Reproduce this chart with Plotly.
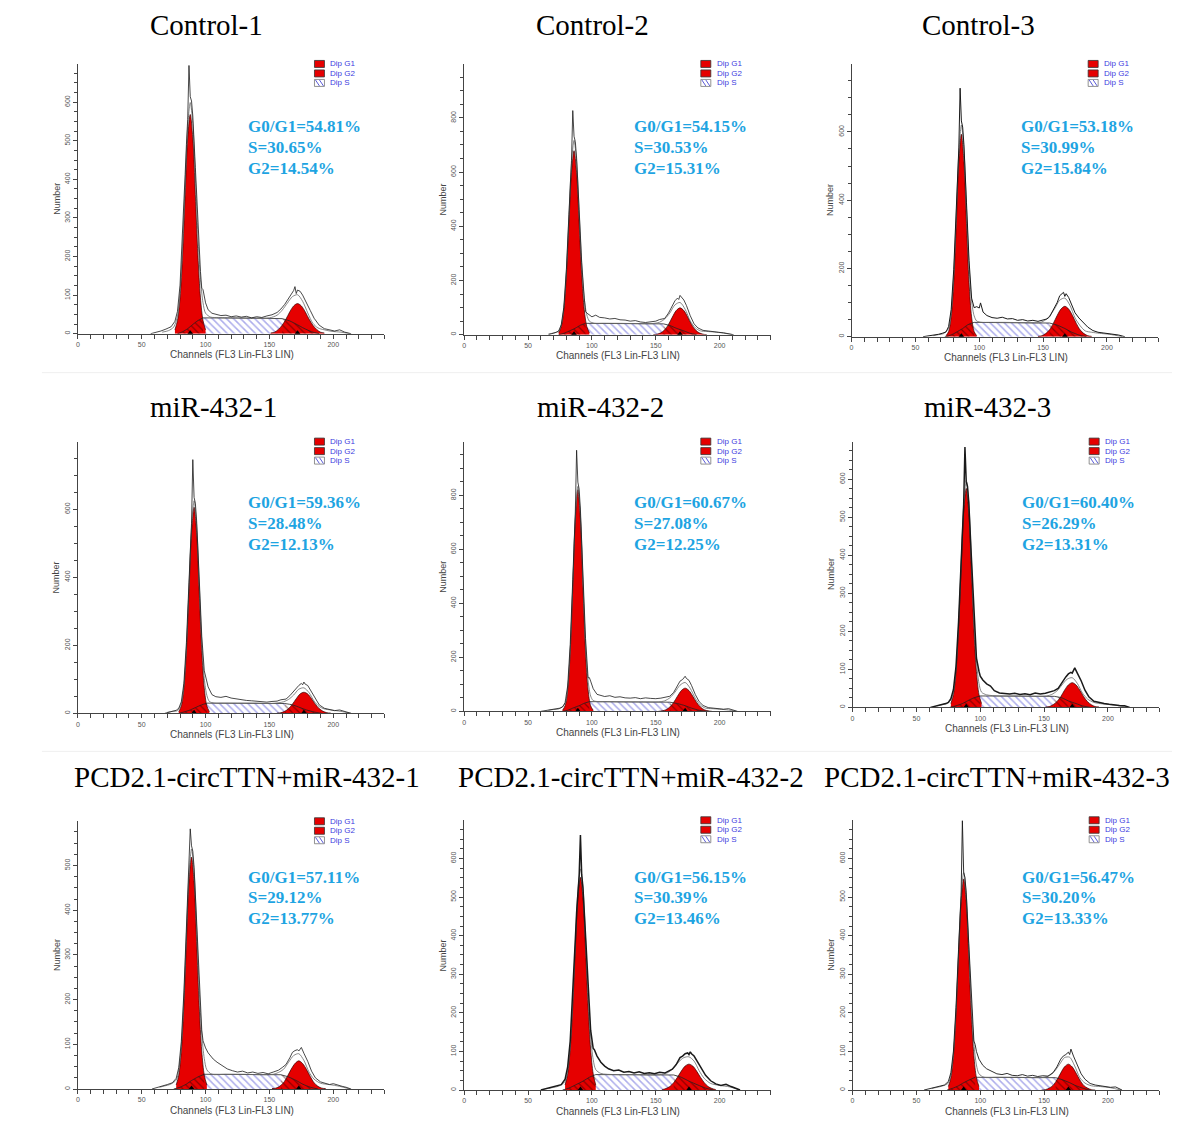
import plotly.graph_objects as go

W, H = 1182, 1122

# ---------------- data ----------------
TITLES = ["Control-1", "Control-2", "Control-3",
          "miR-432-1", "miR-432-2", "miR-432-3",
          "PCD2.1-circTTN+miR-432-1", "PCD2.1-circTTN+miR-432-2", "PCD2.1-circTTN+miR-432-3"]
G01_PCT = [54.81, 54.15, 53.18, 59.36, 60.67, 60.40, 57.11, 56.15, 56.47]
S_PCT = [30.65, 30.53, 30.99, 28.48, 27.08, 26.29, 29.12, 30.39, 30.20]
G2_PCT = [14.54, 15.31, 15.84, 12.13, 12.25, 13.31, 13.77, 13.46, 13.33]

Y_MAX = [700, 1000, 800, 800, 1000, 700, 600, 700, 700]
Y_DTICK = [100, 200, 200, 200, 200, 100, 100, 100, 100]
X_MAX = 240
X_DTICK = 50

G1_MEAN = [88, 86, 86, 91, 89, 89, 89, 91, 87]
G2_MEAN = [172, 169, 167, 177, 173, 172, 173, 176, 169]

G1_X = [
    [76, 78, 80, 82, 84, 86, 88, 90, 92, 94, 96, 98, 100],
    [74, 76, 78, 80, 82, 84, 86, 88, 90, 92, 94, 96, 98],
    [74, 76, 78, 80, 82, 84, 86, 88, 90, 92, 94, 96, 98],
    [79, 81, 83, 85, 87, 89, 91, 93, 95, 97, 99, 101, 103],
    [77, 79, 81, 83, 85, 87, 89, 91, 93, 95, 97, 99, 101],
    [77, 79, 81, 83, 85, 87, 89, 91, 93, 95, 97, 99, 101],
    [77, 79, 81, 83, 85, 87, 89, 91, 93, 95, 97, 99, 101],
    [79, 81, 83, 85, 87, 89, 91, 93, 95, 97, 99, 101, 103],
    [75, 77, 79, 81, 83, 85, 87, 89, 91, 93, 95, 97, 99],
]
G1_Y = [
    [10, 34, 93, 204, 361, 507, 568, 507, 361, 204, 93, 34, 10],
    [7, 30, 92, 221, 412, 599, 679, 599, 412, 221, 92, 30, 7],
    [3, 15, 58, 159, 331, 512, 593, 512, 331, 159, 58, 15, 3],
    [5, 22, 74, 185, 358, 531, 606, 531, 358, 185, 74, 22, 5],
    [4, 21, 80, 220, 458, 709, 821, 709, 458, 220, 80, 21, 4],
    [10, 34, 94, 207, 366, 514, 576, 514, 366, 207, 94, 34, 10],
    [9, 31, 85, 187, 330, 463, 519, 463, 330, 187, 85, 31, 9],
    [13, 42, 106, 218, 365, 497, 551, 497, 365, 218, 106, 42, 13],
    [9, 32, 89, 197, 347, 488, 547, 488, 347, 197, 89, 32, 9],
]
G2_X = [
    [151, 154, 157, 160, 163, 166, 169, 172, 175, 178, 181, 184, 187, 190, 193],
    [148, 151, 154, 157, 160, 163, 166, 169, 172, 175, 178, 181, 184, 187, 190],
    [146, 149, 152, 155, 158, 161, 164, 167, 170, 173, 176, 179, 182, 185, 188],
    [156, 159, 162, 165, 168, 171, 174, 177, 180, 183, 186, 189, 192, 195, 198],
    [152, 155, 158, 161, 164, 167, 170, 173, 176, 179, 182, 185, 188, 191, 194],
    [151, 154, 157, 160, 163, 166, 169, 172, 175, 178, 181, 184, 187, 190, 193],
    [152, 155, 158, 161, 164, 167, 170, 173, 176, 179, 182, 185, 188, 191, 194],
    [155, 158, 161, 164, 167, 170, 173, 176, 179, 182, 185, 188, 191, 194, 197],
    [148, 151, 154, 157, 160, 163, 166, 169, 172, 175, 178, 181, 184, 187, 190],
]
G2_Y = [
    [2, 4, 11, 22, 38, 57, 72, 78, 72, 57, 38, 22, 11, 4, 2],
    [0, 2, 7, 18, 38, 65, 89, 99, 89, 65, 38, 18, 7, 2, 0],
    [1, 3, 9, 20, 39, 62, 81, 89, 81, 62, 39, 20, 9, 3, 1],
    [1, 2, 6, 14, 27, 43, 57, 62, 57, 43, 27, 14, 6, 2, 1],
    [0, 2, 6, 16, 33, 56, 77, 86, 77, 56, 33, 16, 6, 2, 0],
    [1, 2, 7, 15, 28, 45, 59, 65, 59, 45, 28, 15, 7, 2, 1],
    [1, 2, 6, 14, 28, 44, 57, 63, 57, 44, 28, 14, 6, 2, 1],
    [1, 4, 9, 19, 33, 49, 62, 67, 62, 49, 33, 19, 9, 4, 1],
    [0, 1, 5, 12, 26, 44, 60, 67, 60, 44, 26, 12, 5, 1, 0],
]
# S phase: points 0-5 rise under G1, 5-9 plateau, 9-14 fall under G2
S_X = [
    [78, 82, 86, 90, 94, 98, 113, 129, 145, 160, 166, 172, 177, 183, 189],
    [74, 78, 82, 87, 91, 95, 110, 125, 140, 156, 161, 166, 172, 177, 182],
    [73, 78, 82, 87, 91, 96, 110, 125, 140, 155, 161, 167, 172, 178, 184],
    [79, 83, 88, 92, 97, 101, 116, 131, 146, 162, 168, 174, 179, 185, 191],
    [77, 81, 85, 90, 94, 98, 114, 129, 145, 161, 167, 173, 178, 184, 190],
    [76, 81, 86, 90, 95, 100, 114, 129, 143, 158, 164, 169, 175, 180, 186],
    [75, 80, 85, 89, 94, 99, 114, 129, 144, 159, 165, 171, 176, 182, 188],
    [77, 82, 87, 93, 98, 103, 118, 133, 149, 164, 170, 176, 183, 189, 195],
    [74, 78, 83, 87, 92, 96, 112, 128, 143, 159, 164, 170, 175, 181, 186],
]
S_Y = [
    [0, 5, 13, 24, 34, 41, 41, 40, 40, 39, 33, 23, 14, 5, 0],
    [0, 5, 13, 24, 35, 42, 42, 41, 41, 40, 34, 24, 14, 5, 0],
    [0, 5, 13, 24, 35, 42, 42, 41, 41, 40, 34, 24, 14, 5, 0],
    [0, 4, 10, 17, 25, 30, 30, 30, 29, 29, 25, 17, 10, 4, 0],
    [0, 4, 12, 21, 30, 36, 36, 35, 35, 34, 29, 21, 12, 4, 0],
    [0, 4, 10, 17, 25, 30, 30, 30, 29, 29, 25, 17, 10, 4, 0],
    [0, 4, 11, 19, 27, 33, 33, 33, 32, 32, 27, 19, 11, 4, 0],
    [0, 5, 13, 23, 33, 40, 40, 40, 39, 39, 33, 23, 13, 5, 0],
    [0, 4, 11, 19, 27, 33, 33, 33, 32, 32, 27, 19, 11, 4, 0],
]
RAW_X = [
    [57, 61, 65, 69, 73, 76, 78, 80, 82, 84, 85, 86, 87, 88, 89, 90, 92, 94, 96, 97, 98, 100, 102, 105, 108, 112, 116, 120, 124, 128, 132, 136, 140, 144, 148, 152, 156, 159, 162, 165, 167, 169, 170, 171, 172, 174, 176, 179, 182, 185, 189, 193, 197, 201, 205, 209, 214],
    [66, 69, 72, 74, 76, 78, 80, 82, 83, 84, 85, 86, 87, 88, 90, 92, 94, 95, 96, 98, 100, 103, 106, 110, 114, 118, 122, 126, 130, 134, 138, 142, 146, 150, 153, 157, 160, 163, 165, 167, 168, 169, 170, 172, 174, 177, 180, 183, 187, 191, 195, 199, 203, 207, 211],
    [56, 60, 64, 68, 71, 74, 76, 78, 80, 82, 83, 84, 85, 86, 87, 88, 90, 92, 94, 96, 98, 100, 101, 103, 106, 110, 114, 118, 122, 126, 130, 134, 138, 142, 146, 150, 153, 155, 158, 161, 163, 165, 166, 167, 168, 170, 172, 175, 178, 181, 185, 189, 193, 197, 201, 205, 209, 214],
    [68, 71, 74, 77, 79, 81, 83, 85, 87, 88, 89, 90, 91, 92, 93, 95, 97, 99, 100, 102, 105, 108, 112, 116, 120, 124, 128, 132, 136, 140, 144, 148, 152, 156, 159, 163, 166, 169, 171, 173, 175, 176, 177, 178, 180, 183, 186, 189, 193, 197, 201, 205, 209, 214],
    [60, 64, 68, 72, 75, 77, 79, 81, 83, 85, 86, 87, 88, 89, 90, 91, 93, 95, 97, 98, 99, 101, 104, 107, 110, 114, 118, 122, 126, 130, 134, 138, 142, 146, 150, 154, 158, 161, 164, 167, 169, 171, 172, 173, 174, 176, 178, 181, 184, 187, 191, 195, 199, 203, 207, 211, 214],
    [61, 65, 69, 73, 75, 77, 79, 81, 83, 85, 86, 87, 88, 89, 90, 91, 93, 95, 97, 99, 100, 102, 105, 108, 111, 115, 119, 123, 127, 131, 135, 139, 143, 147, 151, 155, 158, 161, 164, 167, 169, 171, 172, 173, 174, 176, 179, 182, 185, 189, 193, 197, 201, 205, 209, 213, 217],
    [58, 62, 66, 70, 74, 77, 79, 81, 83, 85, 86, 87, 88, 89, 90, 91, 93, 95, 97, 98, 100, 102, 106, 109, 113, 117, 121, 125, 129, 133, 137, 141, 145, 149, 153, 157, 160, 163, 166, 168, 170, 172, 173, 174, 175, 177, 180, 183, 186, 190, 194, 197, 200, 203, 207, 210, 214],
    [60, 64, 68, 72, 76, 79, 81, 83, 85, 87, 88, 89, 90, 91, 92, 93, 95, 97, 99, 101, 102, 104, 107, 110, 113, 117, 121, 125, 129, 133, 137, 141, 145, 149, 153, 157, 160, 163, 166, 169, 171, 173, 175, 176, 177, 178, 180, 183, 186, 189, 193, 197, 201, 205, 209, 213, 216],
    [56, 60, 64, 68, 72, 75, 77, 79, 81, 83, 84, 85, 86, 87, 88, 89, 91, 93, 95, 96, 97, 99, 102, 105, 109, 113, 117, 121, 125, 129, 133, 137, 141, 145, 149, 153, 157, 160, 163, 165, 167, 168, 169, 170, 171, 173, 176, 179, 182, 186, 190, 194, 198, 202, 206, 211],
]
RAW_Y = [
    [0, 3, 7, 12, 18, 32, 58, 126, 252, 413, 490, 555, 695, 614, 603, 564, 431, 280, 161, 118, 114, 80, 62, 53, 50, 47, 48, 44, 46, 43, 45, 41, 44, 42, 46, 49, 55, 64, 76, 92, 100, 112, 122, 104, 113, 110, 100, 82, 60, 40, 22, 13, 9, 7, 10, 4, 0],
    [0, 4, 9, 14, 37, 101, 240, 444, 551, 644, 827, 732, 712, 652, 461, 266, 136, 85, 80, 72, 66, 72, 64, 62, 58, 60, 55, 54, 50, 52, 47, 45, 47, 50, 56, 60, 80, 108, 125, 135, 130, 145, 140, 128, 108, 70, 40, 25, 16, 13, 12, 9, 7, 4, 0],
    [0, 2, 4, 7, 10, 14, 30, 79, 196, 373, 469, 553, 728, 632, 614, 562, 392, 223, 113, 85, 88, 84, 99, 72, 62, 56, 54, 57, 52, 53, 48, 50, 46, 48, 45, 48, 52, 58, 78, 100, 120, 128, 130, 118, 126, 115, 98, 70, 55, 42, 28, 18, 13, 11, 9, 8, 5, 0],
    [0, 3, 6, 9, 15, 34, 88, 208, 385, 478, 559, 746, 635, 618, 566, 398, 227, 125, 110, 78, 55, 49, 47, 50, 45, 42, 40, 38, 37, 35, 34, 33, 35, 36, 40, 42, 52, 66, 72, 82, 88, 84, 92, 86, 82, 64, 42, 25, 15, 11, 8, 10, 5, 0],
    [0, 3, 6, 9, 12, 16, 33, 94, 247, 489, 622, 739, 967, 849, 823, 746, 505, 270, 124, 125, 112, 84, 63, 58, 55, 58, 52, 54, 50, 49, 51, 47, 50, 48, 47, 49, 54, 56, 70, 95, 112, 118, 125, 130, 122, 115, 96, 62, 36, 22, 14, 12, 10, 8, 10, 5, 0],
    [0, 3, 6, 10, 13, 23, 47, 107, 225, 385, 465, 533, 685, 595, 581, 540, 398, 244, 130, 95, 82, 72, 62, 56, 44, 38, 36, 35, 37, 34, 36, 33, 38, 35, 37, 42, 44, 50, 66, 80, 88, 92, 90, 98, 104, 90, 70, 45, 28, 16, 12, 10, 8, 6, 5, 4, 0],
    [0, 3, 6, 10, 14, 24, 48, 106, 215, 359, 429, 489, 582, 544, 532, 496, 373, 235, 132, 108, 92, 81, 67, 60, 52, 45, 41, 38, 40, 36, 38, 35, 37, 34, 38, 42, 48, 55, 70, 82, 86, 88, 85, 90, 93, 80, 62, 40, 25, 16, 12, 10, 12, 9, 6, 4, 0],
    [0, 3, 6, 10, 14, 28, 60, 127, 245, 390, 459, 517, 555, 661, 558, 524, 404, 266, 155, 108, 104, 88, 72, 62, 55, 50, 52, 46, 48, 44, 47, 43, 45, 42, 46, 44, 48, 54, 66, 84, 88, 94, 96, 92, 99, 94, 88, 70, 55, 38, 24, 16, 12, 15, 9, 5, 0],
    [0, 3, 6, 9, 13, 22, 45, 101, 214, 365, 440, 504, 698, 564, 551, 511, 379, 234, 127, 118, 100, 80, 64, 55, 48, 42, 40, 43, 38, 37, 40, 36, 38, 35, 37, 36, 45, 60, 80, 88, 92, 96, 98, 92, 106, 88, 65, 42, 28, 17, 13, 11, 9, 7, 8, 0],
]
FIT_X = [
    [66, 71, 75, 78, 80, 82, 84, 86, 88, 90, 92, 94, 96, 98, 100, 104, 110, 125, 140, 150, 156, 160, 164, 168, 172, 176, 180, 184, 188, 193, 199, 206, 213],
    [66, 70, 74, 76, 78, 80, 82, 84, 86, 88, 90, 92, 94, 96, 98, 102, 108, 120, 135, 147, 153, 157, 161, 165, 169, 173, 177, 181, 185, 190, 196, 203, 210],
    [64, 68, 72, 76, 78, 80, 82, 84, 86, 88, 90, 92, 94, 96, 98, 102, 108, 120, 135, 147, 151, 155, 159, 163, 167, 171, 175, 179, 183, 188, 194, 202, 212],
    [70, 74, 78, 81, 83, 85, 87, 89, 91, 93, 95, 97, 99, 101, 103, 107, 113, 125, 140, 152, 161, 165, 169, 173, 177, 181, 185, 189, 193, 198, 204, 210, 214],
    [66, 70, 74, 79, 81, 83, 85, 87, 89, 91, 93, 95, 97, 99, 101, 105, 111, 125, 140, 152, 157, 161, 165, 169, 173, 177, 181, 185, 189, 194, 200, 207, 213],
    [66, 70, 74, 77, 79, 81, 83, 85, 87, 89, 91, 93, 95, 97, 99, 101, 105, 115, 130, 145, 152, 156, 160, 164, 168, 172, 176, 180, 184, 189, 196, 205, 215],
    [64, 68, 72, 77, 79, 81, 83, 85, 87, 89, 91, 93, 95, 97, 99, 101, 105, 115, 130, 145, 153, 157, 161, 165, 169, 173, 177, 181, 185, 190, 197, 205, 213],
    [66, 70, 74, 79, 81, 83, 85, 87, 89, 91, 93, 95, 97, 99, 101, 103, 107, 118, 133, 149, 156, 160, 164, 168, 172, 176, 180, 184, 188, 193, 200, 208, 216],
    [62, 66, 70, 75, 77, 79, 81, 83, 85, 87, 89, 91, 93, 95, 97, 99, 103, 113, 128, 143, 150, 154, 158, 162, 166, 170, 174, 178, 182, 187, 194, 202, 210],
]
FIT_Y = [
    [4, 8, 17, 46, 106, 226, 388, 536, 599, 545, 406, 254, 141, 80, 53, 43, 42, 41, 40, 41, 48, 61, 79, 96, 101, 84, 54, 27, 15, 10, 6, 4, 0],
    [3, 6, 13, 36, 99, 235, 435, 631, 717, 639, 452, 261, 134, 73, 50, 42, 42, 42, 41, 41, 46, 58, 80, 110, 119, 94, 51, 25, 14, 12, 10, 6, 0],
    [3, 6, 9, 25, 70, 181, 357, 539, 620, 548, 376, 208, 104, 61, 46, 42, 42, 42, 41, 41, 47, 60, 82, 107, 113, 92, 55, 32, 17, 13, 10, 7, 0],
    [3, 6, 8, 29, 78, 193, 370, 547, 625, 554, 383, 212, 102, 53, 35, 30, 30, 30, 30, 29, 34, 41, 54, 71, 75, 61, 36, 20, 13, 10, 7, 3, 0],
    [4, 7, 9, 28, 83, 226, 466, 719, 833, 726, 482, 249, 113, 57, 40, 36, 36, 35, 35, 35, 39, 50, 71, 97, 107, 85, 48, 23, 12, 10, 8, 5, 0],
    [4, 7, 10, 19, 40, 99, 215, 378, 531, 596, 538, 391, 234, 122, 63, 40, 33, 30, 30, 29, 30, 34, 43, 59, 74, 78, 63, 38, 22, 13, 9, 6, 0],
    [4, 7, 10, 20, 43, 97, 204, 347, 480, 537, 487, 361, 224, 123, 68, 43, 33, 33, 33, 32, 33, 37, 44, 60, 75, 79, 64, 38, 22, 13, 10, 6, 0],
    [4, 7, 10, 22, 50, 112, 228, 379, 515, 573, 522, 393, 249, 140, 79, 53, 43, 40, 40, 39, 41, 46, 58, 73, 84, 86, 75, 50, 30, 17, 12, 8, 0],
    [4, 7, 10, 18, 40, 94, 204, 357, 502, 564, 509, 371, 224, 120, 65, 42, 33, 33, 33, 32, 33, 37, 48, 66, 84, 85, 62, 32, 18, 11, 9, 6, 0],
]
LEGEND_NAMES = ["Dip G1", "Dip G2", "Dip S"]

# ---------------- layout geometry (pixels) ----------------
AX_LEFT = [76, 463, 851, 76, 463, 852, 76, 463, 852]
AX_TOP = [64, 64, 64, 442, 442, 442, 822, 821, 821]
AX_BOTTOM = [334, 335, 337, 714, 712, 708, 1090, 1091, 1091]
AX_W = 307
TITLE_X = [205, 591, 978, 212, 600, 987, 245, 630, 997]
TITLE_Y = [25, 25, 25, 407, 407, 407, 778, 778, 778]
TEXT_Y = [[127, 148, 169]] * 3 + [[503, 524, 545]] * 3 + [[878, 898, 919]] * 3
RAW_W = [0.8, 0.8, 1.0, 0.8, 0.8, 1.5, 0.8, 1.5, 0.9]

RED = "#e60000"
HATCH_BLUE = "#5c5cd8"
TXT_BLUE = "#1ea4e2"
AX_COL = "#444444"


def px(x):
    return x / W


def py(y):
    return 1 - y / H


fig = go.Figure()
shapes = []
annotations = []

for i in range(9):
    n = "" if i == 0 else str(i + 1)
    xa, ya = "x" + n, "y" + n

    sx, sy = S_X[i], S_Y[i]
    # S plateau (blue hatch on white)
    fig.add_trace(go.Scatter(
        x=sx[5:10], y=sy[5:10], xaxis=xa, yaxis=ya, mode="lines",
        line=dict(color="#222222", width=0.8), fill="tozeroy",
        fillcolor="rgba(0,0,0,0)",
        fillpattern=dict(shape="\\", fgcolor=HATCH_BLUE, bgcolor="rgba(0,0,0,0)",
                         size=5, solidity=0.3),
        hoverinfo="skip"))
    # G1 and G2 red peaks
    for gx, gy in ((G1_X[i], G1_Y[i]), (G2_X[i], G2_Y[i])):
        fig.add_trace(go.Scatter(
            x=gx, y=gy, xaxis=xa, yaxis=ya, mode="lines",
            line=dict(color="#300000", width=0.7, shape="spline", smoothing=0.9),
            fill="tozeroy", fillcolor=RED, hoverinfo="skip"))
    # S parts lying under the red peaks (dark hatch)
    for a, b in ((0, 6), (9, 15)):
        fig.add_trace(go.Scatter(
            x=sx[a:b], y=sy[a:b], xaxis=xa, yaxis=ya, mode="lines",
            line=dict(color="#222222", width=0.8, shape="spline", smoothing=0.6),
            fill="tozeroy", fillcolor="rgba(0,0,0,0)",
            fillpattern=dict(shape="\\", fgcolor="#3a0000", bgcolor="rgba(0,0,0,0)",
                             size=5, solidity=0.25),
            hoverinfo="skip"))
    # model fit
    fig.add_trace(go.Scatter(
        x=FIT_X[i], y=FIT_Y[i], xaxis=xa, yaxis=ya, mode="lines",
        line=dict(color="#6a6a6a", width=0.8, shape="spline", smoothing=0.8),
        hoverinfo="skip"))
    # raw histogram
    fig.add_trace(go.Scatter(
        x=RAW_X[i], y=RAW_Y[i], xaxis=xa, yaxis=ya, mode="lines",
        line=dict(color="#1a1a1a", width=RAW_W[i]), hoverinfo="skip"))
    # peak means
    fig.add_trace(go.Scatter(
        x=[G1_MEAN[i], G2_MEAN[i]], y=[0, 0], xaxis=xa, yaxis=ya, mode="markers",
        marker=dict(symbol="triangle-up", size=7, color="black"), hoverinfo="skip"))

    l, t, b = AX_LEFT[i], AX_TOP[i], AX_BOTTOM[i]
    tickfont = dict(family="Liberation Sans, Arial", size=7, color="#555555")
    fig.layout["xaxis" + n] = dict(
        domain=[px(l), px(l + AX_W)], anchor=ya, range=[0, X_MAX],
        dtick=X_DTICK, tick0=0, ticks="outside", ticklen=4, tickwidth=1,
        tickcolor=AX_COL, showline=True, linecolor=AX_COL, linewidth=1,
        showgrid=False, zeroline=False, tickfont=tickfont,
        minor=dict(dtick=10, tick0=0, ticks="outside", ticklen=4, tickcolor=AX_COL, showgrid=False))
    fig.layout["yaxis" + n] = dict(
        domain=[py(b), py(t)], anchor=xa, range=[0, Y_MAX[i] - 1],
        dtick=Y_DTICK[i], tick0=0, ticks="outside", ticklen=4, tickwidth=1,
        tickcolor=AX_COL, showline=True, linecolor=AX_COL, linewidth=1,
        showgrid=False, zeroline=False, tickfont=tickfont, tickangle=-90,
        minor=dict(dtick=Y_DTICK[i] / 4, tick0=0, ticks="outside", ticklen=3,
                   tickcolor=AX_COL, showgrid=False))

    # panel title
    annotations.append(dict(
        x=px(TITLE_X[i]), y=py(TITLE_Y[i]), xref="paper", yref="paper",
        text=TITLES[i], showarrow=False, xanchor="center", yanchor="middle",
        font=dict(family="Liberation Serif, Times New Roman, serif", size=29, color="black")))
    # percentages
    lines = ["G0/G1=%.2f%%" % G01_PCT[i], "S=%.2f%%" % S_PCT[i], "G2=%.2f%%" % G2_PCT[i]]
    for k, s in enumerate(lines):
        annotations.append(dict(
            x=px(l + 168), y=py(TEXT_Y[i][k]), xref="paper", yref="paper",
            text="<b>" + s + "</b>", showarrow=False, xanchor="left", yanchor="middle",
            font=dict(family="Liberation Serif, Times New Roman, serif", size=17, color=TXT_BLUE)))
    # axis titles
    annotations.append(dict(
        x=px(l + AX_W / 2 + 1), y=py(b + 21), xref="paper", yref="paper",
        text="Channels (FL3 Lin-FL3 LIN)", showarrow=False, xanchor="center", yanchor="middle",
        font=dict(family="Liberation Sans, Arial", size=10, color="#444444")))
    annotations.append(dict(
        x=px(l - 21), y=py((t + b) / 2), xref="paper", yref="paper",
        text="Number", showarrow=False, textangle=-90, xanchor="center", yanchor="middle",
        font=dict(family="Liberation Sans, Arial", size=9, color="#444444")))
    # legend swatches
    for k, name in enumerate(LEGEND_NAMES):
        cy = t + k * 9.5
        shapes.append(dict(
            type="rect", xref="paper", yref="paper",
            x0=px(l + 237), x1=px(l + 247), y0=py(cy + 3.5), y1=py(cy - 3.5),
            line=dict(color="#333333" if k < 2 else "#777777", width=0.8),
            fillcolor=RED if k < 2 else "white"))
        if k == 2:
            for d in (0, 4):
                shapes.append(dict(
                    type="line", xref="paper", yref="paper",
                    x0=px(l + 238 + d), x1=px(l + 242 + d), y0=py(cy - 3), y1=py(cy + 3),
                    line=dict(color=HATCH_BLUE, width=1)))
        annotations.append(dict(
            x=px(l + 251), y=py(cy), xref="paper", yref="paper", text=name,
            showarrow=False, xanchor="left", yanchor="middle",
            font=dict(family="Liberation Sans, Arial", size=8, color="#3c3ce0")))

# faint separators between rows
for yy in (373, 752):
    shapes.append(dict(type="line", xref="paper", yref="paper",
                       x0=px(40), x1=px(1172), y0=py(yy), y1=py(yy),
                       line=dict(color="#efefef", width=1)))

fig.update_layout(
    width=W, height=H, margin=dict(l=0, r=0, t=0, b=0),
    paper_bgcolor="white", plot_bgcolor="white", showlegend=False,
    shapes=shapes, annotations=annotations)

fig.write_html("out.html", config={"displayModeBar": False},
               post_script="document.body.style.margin='0';document.body.style.padding='0';")
